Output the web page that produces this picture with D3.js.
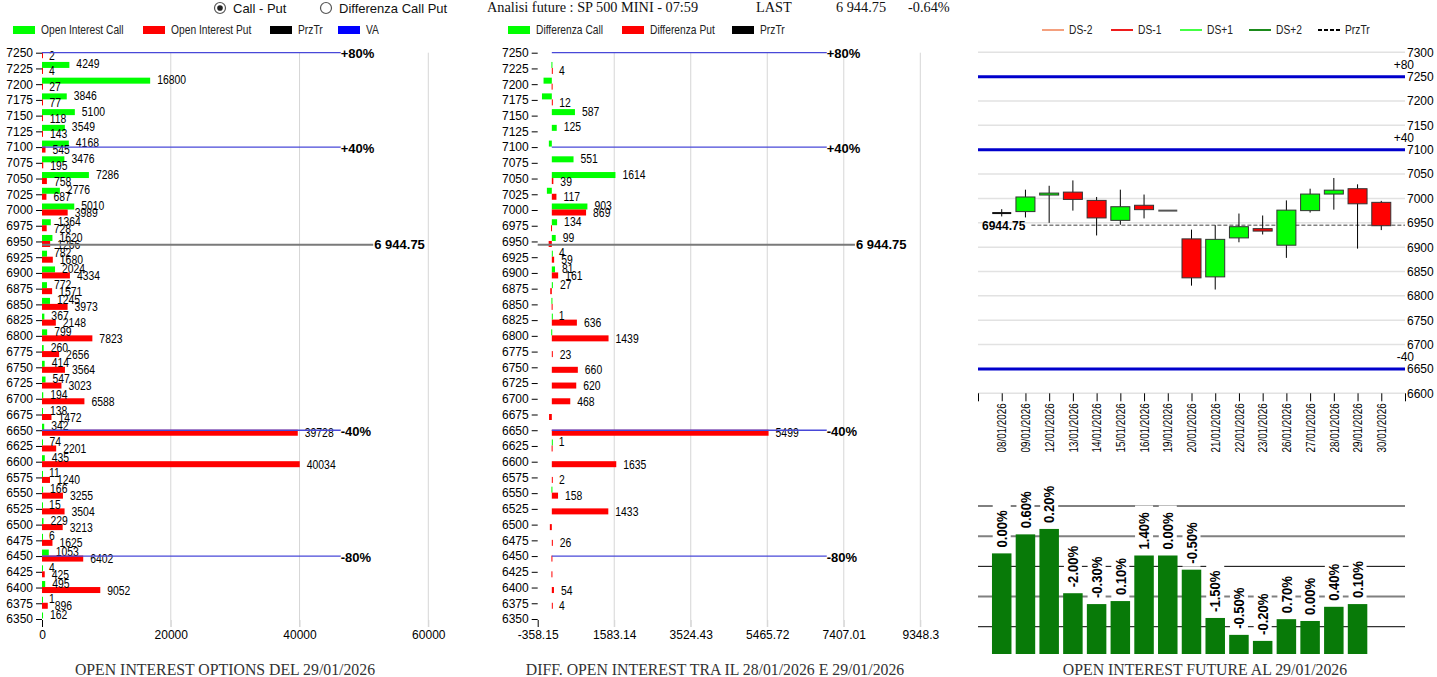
<!DOCTYPE html>
<html><head><meta charset="utf-8">
<script src="https://cdn.jsdelivr.net/npm/d3@7"></script>
<style>
body{margin:0;background:#fff;overflow:hidden}
svg{display:block}
text{font-family:"Liberation Sans",Arial,sans-serif}
</style>
</head><body>
<svg id="c" width="1437" height="677"></svg>
<script>
// ---------------- DATA ----------------
const strikes = [7250,7225,7200,7175,7150,7125,7100,7075,7050,7025,7000,6975,6950,6925,6900,6875,6850,6825,6800,6775,6750,6725,6700,6675,6650,6625,6600,6575,6550,6525,6500,6475,6450,6425,6400,6375,6350];
const oiCall = [0,4249,16800,3846,5100,3549,4168,3476,7286,2776,5010,1364,1620,782,2024,772,1245,367,799,260,414,547,194,138,342,74,435,11,166,15,229,6,1053,4,495,1,162];
const oiPut  = [2,4,27,77,118,143,545,195,758,687,3989,728,1266,1680,4334,1571,3973,2148,7823,2656,3564,3023,6588,1472,39728,2201,40034,1240,3255,3504,3213,1625,6402,425,9052,896,0];
const diffCall = [0,-10,-210,-250,587,125,-75,551,1614,-125,903,134,99,4,81,27,-10,1,-15,0,0,0,0,0,0,1,0,0,-10,0,0,0,0,0,0,0,0];
const diffPut  = [0,4,-5,12,0,0,0,0,39,117,869,-20,-80,59,161,-40,-5,636,1439,23,660,620,468,-70,5499,-5,1635,2,158,1433,-50,26,-10,-10,54,4,0];
const oiTicks = [0,20000,40000,60000];
const diffTicks = [-358.15,1583.14,3524.43,5465.72,7407.01,9348.3];
const vaLevels = [7250,7100,6650,6450];
const vaLabels = ["+80%","+40%","-40%","-80%"];
const lastPrice = 6944.75;
const lastLabel = "6 944.75";

const dates = ["08/01/2026","09/01/2026","12/01/2026","13/01/2026","14/01/2026","15/01/2026","16/01/2026","19/01/2026","20/01/2026","21/01/2026","22/01/2026","23/01/2026","26/01/2026","27/01/2026","28/01/2026","29/01/2026","30/01/2026"];
const cOpen  = [6970,6973,7007,7013,6996,6955,6986,6975,6917,6839,6919,6938,6904,6975,7009,7020,6992];
const cHigh  = [6978,7018,7026,7037,7003,7018,7008,6975,6936,6945,6969,6965,6996,7020,7042,7029,6995];
const cLow   = [6963,6961,6950,6975,6924,6946,6959,6975,6821,6813,6910,6926,6878,6971,6977,6897,6935];
const cClose = [6970,7003,7011,6998,6960,6983,6977,6975,6837,6916,6942,6933,6976,7009,7017,6989,6944];
const priceTicks = [6600,6650,6700,6750,6800,6850,6900,6950,7000,7050,7100,7150,7200,7250,7300];
const futLevels = [7250,7100,6650];
const futLabels = ["+80","+40","-40"];

const futOI  = [2243,2306,2324,2111,2075,2085,2236,2236,2189,2029,1973,1953,2025,2019,2066,2075];
const futPct = ["0.00%","0.60%","0.20%","-2.00%","-0.30%","0.10%","1.40%","0.00%","-0.50%","-1.50%","-0.50%","-0.20%","0.70%","0.00%","0.40%","0.10%"];
const futGrid = [2000,2100,2200,2300,2400];

// ---------------- SETUP ----------------
const svg = d3.select('#c');
const SANS = '"Liberation Sans",Arial,sans-serif';
const SERIF = '"Liberation Serif","Times New Roman",serif';
const GREEN = '#00ff00', RED = '#ff0000';

// condensed text helper (horizontal squeeze)
function ntext(parent, x, y, str, size, sx, fill){
  return parent.append('text')
    .attr('transform',`translate(${x},${y}) scale(${sx},1)`)
    .attr('dy','0.35em').attr('font-size',size).attr('fill',fill||'#000')
    .style('font-family',SANS).text(str);
}

// header
function radio(cx, label, sel){
  svg.append('circle').attr('cx',cx).attr('cy',8).attr('r',5.5).attr('fill','#fff').attr('stroke','#555').attr('stroke-width',1.2);
  if(sel) svg.append('circle').attr('cx',cx).attr('cy',8).attr('r',2.8).attr('fill','#222');
  svg.append('text').attr('x',cx+13).attr('y',8).attr('dy','0.35em').attr('font-size',13).attr('fill','#111').text(label);
}
radio(220,'Call - Put',true);
radio(326,'Differenza Call Put',false);
[[487,'Analisi future : SP 500 MINI - 07:59'],[756,'LAST'],[836,lastLabel],[908,'-0.64%']].forEach(h=>{
  svg.append('text').attr('x',h[0]).attr('y',7).attr('dy','0.35em').attr('font-size',14.3).style('font-family',SERIF).attr('fill','#111').text(h[1]);
});

function legend(items, y){
  items.forEach(it=>{
    svg.append('rect').attr('x',it.x).attr('y',y-4).attr('width',22).attr('height',8).attr('fill',it.c);
    ntext(svg, it.x+28, y, it.t, 12, 0.855, '#222');
  });
}
legend([{x:13,c:GREEN,t:'Open Interest Call'},{x:143,c:RED,t:'Open Interest Put'},{x:270,c:'#000',t:'PrzTr'},{x:338,c:'#0000ff',t:'VA'}],30);
legend([{x:508,c:GREEN,t:'Differenza Call'},{x:622,c:RED,t:'Differenza Put'},{x:732,c:'#000',t:'PrzTr'}],30);

// ---------------- BAR PANELS ----------------
function barPanel(opt){
  const {xs, calls, puts, ticks, tickFmt, title, titleX, vaEnd, lastEnd} = opt;
  const ys = d3.scaleLinear().domain([6350,7250]).range([619,52.7]);
  const g = svg.append('g');
  const x0 = xs.range()[0];
  const top = ys(7250), bot = 627;
  g.selectAll('.gl').data(ticks.slice(1)).join('line')
    .attr('x1',d=>xs(d)).attr('x2',d=>xs(d)).attr('y1',top).attr('y2',bot)
    .attr('stroke','#d6d6d6').attr('stroke-width',1);
  const ax = g.append('g').attr('transform',`translate(0,620)`)
    .call(d3.axisBottom(xs).tickValues(ticks).tickFormat(tickFmt).tickSize(7).tickSizeOuter(0).tickPadding(3));
  ax.select('.domain').remove();
  ax.selectAll('.tick line').attr('stroke',(d,i)=>i===0?'#000':'#d6d6d6');
  ax.selectAll('text').attr('font-size',12).attr('fill','#000').style('font-family',SANS);
  const ay = g.append('g').attr('transform',`translate(${x0},0)`)
    .call(d3.axisLeft(ys).tickValues(strikes).tickFormat(d3.format('d')).tickSize(6).tickPadding(3));
  ay.select('.domain').remove();
  ay.selectAll('text').attr('font-size',12).attr('fill','#000').style('font-family',SANS);
  const z = xs(0);
  g.selectAll('.bc').data(strikes).join('rect')
    .attr('x',(d,i)=>Math.min(z,xs(calls[i]))).attr('width',(d,i)=>Math.max(calls[i]!==0?1:0,Math.abs(xs(calls[i])-z)))
    .attr('y',d=>ys(d)-6.5).attr('height',6).attr('fill',GREEN);
  g.selectAll('.bp').data(strikes).join('rect')
    .attr('x',(d,i)=>Math.min(z,xs(puts[i]))).attr('width',(d,i)=>Math.max(puts[i]!==0?1:0,Math.abs(xs(puts[i])-z)))
    .attr('y',d=>ys(d)-0.5).attr('height',6).attr('fill',RED);
  const lab = g.append('g');
  strikes.forEach((s,i)=>{
    if(calls[i]>0) ntext(lab, xs(calls[i])+7, ys(s)-4.5, calls[i], 13, 0.8);
    if(puts[i]>0) ntext(lab, xs(puts[i])+7, ys(s)+2.5, puts[i], 13, 0.8);
  });
  vaLevels.forEach((v,i)=>{
    g.append('line').attr('x1',z).attr('x2',xs(vaEnd)).attr('y1',ys(v)).attr('y2',ys(v)).attr('stroke','#4848d8').attr('stroke-width',1.3);
    g.append('text').attr('x',xs(vaEnd)).attr('y',ys(v)+1).attr('dy','0.35em').attr('font-size',13).attr('font-weight','bold').attr('fill','#000').text(vaLabels[i]);
  });
  g.append('line').attr('x1',x0).attr('x2',xs(lastEnd)).attr('y1',ys(lastPrice)).attr('y2',ys(lastPrice)).attr('stroke','#7a7a7a').attr('stroke-width',2);
  g.append('text').attr('x',xs(lastEnd)+1).attr('y',ys(lastPrice)).attr('dy','0.35em').attr('font-size',13).attr('font-weight','bold').attr('fill','#000').text(lastLabel);
  svg.append('text').attr('x',titleX).attr('y',669).attr('dy','0.35em').attr('text-anchor','middle')
    .attr('font-size',15.8).style('font-family',SERIF).attr('fill','#333').text(title);
}

barPanel({
  xs: d3.scaleLinear().domain([0,60000]).range([42,428.3]),
  calls: oiCall, puts: oiPut, ticks: oiTicks, tickFmt: d3.format('d'),
  title: 'OPEN INTEREST OPTIONS DEL 29/01/2026', titleX: 225, vaEnd: 46400, lastEnd: 51450
});
barPanel({
  xs: d3.scaleLinear().domain([-358.15,9348.3]).range([537.7,920.3]),
  calls: diffCall, puts: diffPut, ticks: diffTicks, tickFmt: d=>String(d),
  title: 'DIFF. OPEN INTEREST TRA IL 28/01/2026 E 29/01/2026', titleX: 715, vaEnd: 6975, lastEnd: 7690
});

// ---------------- CANDLESTICK ----------------
const xP = d3.scalePoint().domain(['_a',...dates,'_b']).range([978,1405]);
const yP = d3.scaleLinear().domain([6600,7300]).range([393.3,52.3]);
const cg = svg.append('g');
const rl = [{t:'DS-2',c:'#f4a07e',d:null},{t:'DS-1',c:'#ee1c1c',d:null},{t:'DS+1',c:'#44ff44',d:null},{t:'DS+2',c:'#1b8a1b',d:null},{t:'PrzTr',c:'#000',d:'4,2'}];
rl.forEach((it,i)=>{
  const lx = 1042 + i*69;
  cg.append('line').attr('x1',lx).attr('x2',lx+22).attr('y1',30).attr('y2',30).attr('stroke',it.c).attr('stroke-width',2).attr('stroke-dasharray',it.d);
  ntext(cg, lx+27, 30, it.t, 12, 0.855, '#222');
});
cg.selectAll('.pg').data(priceTicks).join('line')
  .attr('x1',978).attr('x2',1405).attr('y1',d=>yP(d)).attr('y2',d=>yP(d)).attr('stroke','#e2e2e2').attr('stroke-width',1.5);
const ayr = cg.append('g').attr('transform','translate(1405,0)')
  .call(d3.axisRight(yP).tickValues(priceTicks).tickFormat(d3.format('d')).tickSize(0).tickPadding(2));
ayr.select('.domain').remove();
ayr.selectAll('text').attr('font-size',12).attr('fill','#000').style('font-family',SANS);
futLevels.forEach((v,i)=>{
  cg.append('line').attr('x1',978).attr('x2',1405).attr('y1',yP(v)).attr('y2',yP(v)).attr('stroke','#0000cc').attr('stroke-width',3);
  cg.append('text').attr('x',1414).attr('y',yP(v)-12).attr('dy','0.35em').attr('text-anchor','end').attr('font-size',12).attr('fill','#000').text(futLabels[i]);
});
const ll = cg.append('text').attr('x',982).attr('y',yP(lastPrice)).attr('dy','0.35em').attr('font-size',12).attr('font-weight','bold').attr('fill','#000').text(lastPrice.toFixed(2));
const llEnd = 982 + ll.node().getComputedTextLength() + 6;
cg.append('line').attr('x1',llEnd).attr('x2',1405).attr('y1',yP(lastPrice)).attr('y2',yP(lastPrice)).attr('stroke','#808080').attr('stroke-width',1.5).attr('stroke-dasharray','4,2');
const axb = cg.append('g').attr('transform','translate(0,393.3)')
  .call(d3.axisBottom(xP).tickSize(8).tickSizeOuter(0).tickFormat(d=>d.startsWith('_')?'':d));
axb.select('.domain').remove();
axb.selectAll('.tick line').attr('stroke','#000');
axb.selectAll('text').attr('font-size',12).style('font-family',SANS).attr('fill','#000')
  .attr('transform','rotate(-90) scale(0.82,1)').attr('text-anchor','end').attr('x',-10/0.82).attr('y',0).attr('dy','0.35em');
dates.forEach((d,i)=>{
  const x = xP(d), o=cOpen[i], c=cClose[i];
  cg.append('line').attr('x1',x).attr('x2',x).attr('y1',yP(cHigh[i])).attr('y2',yP(cLow[i])).attr('stroke','#000').attr('stroke-width',1);
  if(o===c){
    cg.append('line').attr('x1',x-9.5).attr('x2',x+9.5).attr('y1',yP(o)).attr('y2',yP(o)).attr('stroke', cHigh[i]===cLow[i]?'#555':'#111').attr('stroke-width',2);
  } else {
    cg.append('rect').attr('x',x-9.5).attr('width',19).attr('y',yP(Math.max(o,c))).attr('height',Math.max(1,yP(Math.min(o,c))-yP(Math.max(o,c))))
      .attr('fill',c>o?GREEN:RED).attr('stroke','#333').attr('stroke-width',1);
  }
});

// ---------------- FUTURE OI BARS ----------------
const yB = d3.scaleLinear().domain([1909.6,2400]).range([654,506]);
const bg = svg.append('g');
bg.selectAll('.fg').data(futGrid).join('line')
  .attr('x1',978).attr('x2',1405).attr('y1',d=>yB(d)).attr('y2',d=>yB(d))
  .attr('stroke',(d,i)=>i%2?'#808080':'#000').attr('stroke-width',(d,i)=>i%2?2:1);
bg.selectAll('.fb').data(futOI).join('rect')
  .attr('x',(d,i)=>xP(dates[i])-9.75).attr('width',19.5)
  .attr('y',d=>yB(d)).attr('height',d=>yB.range()[0]-yB(d)).attr('fill','#087a08');
futOI.forEach((v,i)=>{
  const g = bg.append('g').attr('transform',`translate(${xP(dates[i])},${yB(v)-6}) rotate(-90)`);
  const r = g.append('rect').attr('fill','#fff');
  const t = g.append('text').attr('transform','scale(0.87,1)').attr('x',0).attr('y',0).attr('dy','0.35em')
    .attr('font-size',15).attr('font-weight','bold').style('font-family',SANS).attr('fill','#000').text(futPct[i]);
  const w = t.node().getComputedTextLength()*0.87;
  r.attr('x',-3).attr('y',-9).attr('width',w+10).attr('height',18);
});
svg.append('text').attr('x',1205).attr('y',669).attr('dy','0.35em').attr('text-anchor','middle')
  .attr('font-size',15.8).style('font-family',SERIF).attr('fill','#333').text('OPEN INTEREST FUTURE AL 29/01/2026');
</script>
</body></html>
